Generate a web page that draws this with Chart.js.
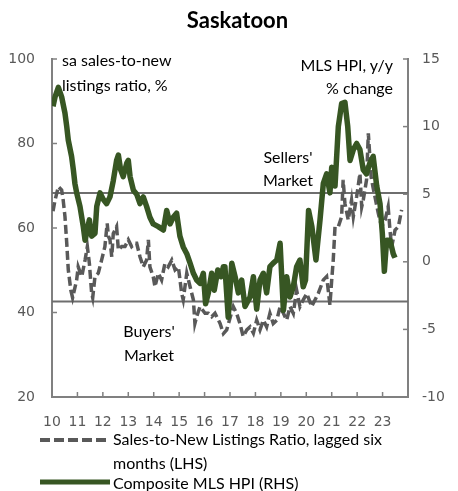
<!DOCTYPE html>
<html>
<head>
<meta charset="utf-8">
<script src="https://cdn.jsdelivr.net/npm/chart.js@4.4.1/dist/chart.umd.min.js"></script>
<style>
  html, body { margin: 0; padding: 0; background: #fff; }
  #wrap { position: relative; width: 458px; height: 491px; overflow: hidden; font-family: Lato, "Open Sans", sans-serif; color: #000; }
  #c { position: absolute; left: 0; top: 0; }
  .t { position: absolute; white-space: nowrap; line-height: 1; }
  #title { left: 0; width: 475px; text-align: center; top: 9px; font-weight: bold; font-size: 22px; }
  .ann { font-size: 16px; }
  .leg { font-size: 16px; }
  svg { position: absolute; }
</style>
</head>
<body>
<div id="wrap">
  <canvas id="c" width="458" height="491"></canvas>
  <div class="t" id="title">Saskatoon</div>
  <div class="t ann" style="left:62px;top:52px;">sa sales-to-new</div>
  <div class="t ann" style="left:62px;top:77px;">listings ratio, %</div>
  <div class="t ann" style="right:65px;top:57px;">MLS HPI, y/y</div>
  <div class="t ann" style="right:65px;top:80px;">% change</div>
  <div class="t ann" style="left:238px;width:100px;text-align:center;top:149px;">Sellers'</div>
  <div class="t ann" style="left:238px;width:100px;text-align:center;top:172px;">Market</div>
  <div class="t ann" style="left:99px;width:100px;text-align:center;top:323px;">Buyers'</div>
  <div class="t ann" style="left:99px;width:100px;text-align:center;top:347px;">Market</div>
  <svg style="left:38px;top:434px" width="74" height="12"><line x1="2" y1="6" x2="72" y2="6" stroke="#595959" stroke-width="4" stroke-dasharray="10,4"/></svg>
  <div class="t leg" style="left:113px;top:431px;">Sales-to-New Listings Ratio, lagged six</div>
  <div class="t leg" style="left:113px;top:455px;">months (LHS)</div>
  <svg style="left:38px;top:476px" width="74" height="12"><line x1="2" y1="6" x2="72" y2="6" stroke="#375623" stroke-width="5"/></svg>
  <div class="t leg" style="left:113px;top:475px;">Composite MLS HPI (RHS)</div>
</div>
<script>
// Composite MLS HPI, y/y % change (right axis)
const hpiDates = [2010.04,2010.12,2010.25,2010.38,2010.51,2010.58,2010.64,2010.77,2010.84,2010.90,2010.97,2011.10,2011.23,2011.30,2011.36,2011.47,2011.56,2011.69,2011.76,2011.89,2012.02,2012.15,2012.28,2012.41,2012.54,2012.61,2012.70,2012.80,2012.94,2013.00,2013.07,2013.20,2013.33,2013.46,2013.59,2013.72,2013.85,2013.98,2014.18,2014.38,2014.51,2014.64,2014.77,2014.90,2015.03,2015.16,2015.30,2015.43,2015.56,2015.69,2015.82,2015.95,2016.04,2016.15,2016.28,2016.38,2016.52,2016.65,2016.74,2016.80,2016.93,2017.07,2017.20,2017.33,2017.46,2017.59,2017.79,2017.92,2018.05,2018.18,2018.31,2018.44,2018.57,2018.70,2018.84,2018.97,2019.10,2019.23,2019.36,2019.49,2019.62,2019.75,2019.88,2019.97,2020.09,2020.22,2020.38,2020.54,2020.67,2020.80,2020.93,2021.00,2021.13,2021.26,2021.39,2021.52,2021.63,2021.72,2021.85,2021.98,2022.11,2022.24,2022.37,2022.50,2022.63,2022.77,2022.90,2022.99,2023.07,2023.16,2023.29,2023.42,2023.49];
const hpiValues = [11.5,12.2,12.9,12.2,11.0,10.0,9.0,7.8,6.8,5.8,5.1,4.1,2.6,1.6,2.1,3.1,1.9,2.1,4.1,5.1,4.6,4.3,4.8,6.0,7.5,7.9,6.8,6.3,7.3,7.5,6.3,5.3,5.0,4.3,4.8,4.1,3.3,2.8,2.6,2.35,3.8,2.8,3.3,3.6,1.9,1.1,0.6,-0.1,-0.85,-1.35,-1.6,-0.85,-3.1,-2.3,-0.85,-2.1,-0.6,-1.1,-0.36,-0.36,-4.1,-0.1,-1.1,-2.3,-1.35,-3.3,-2.6,-1.1,-3.5,-1.35,-0.85,-2.3,-0.36,-0.1,0.13,1.37,-3.6,-1.1,-2.6,-1.85,-0.36,0.13,-1.85,-1.35,3.8,2.6,0.13,3.1,5.8,6.5,5.1,7.0,5.6,10.0,11.7,11.8,10.0,7.5,8.3,8.75,8.3,6.8,6.5,7.3,7.8,5.6,4.3,2.1,-0.7,1.6,1.6,0.6,0.3];

// Sales-to-new listings ratio, lagged six months (left axis)
const snlrDates = [2010.04,2010.12,2010.25,2010.38,2010.44,2010.51,2010.58,2010.64,2010.74,2010.81,2010.97,2011.03,2011.17,2011.30,2011.39,2011.47,2011.56,2011.60,2011.69,2011.82,2011.95,2012.08,2012.17,2012.22,2012.28,2012.35,2012.41,2012.54,2012.61,2012.74,2012.87,2013.00,2013.13,2013.26,2013.33,2013.46,2013.59,2013.72,2013.79,2013.85,2013.98,2014.05,2014.18,2014.31,2014.44,2014.57,2014.71,2014.84,2014.97,2015.10,2015.16,2015.30,2015.43,2015.56,2015.62,2015.69,2015.82,2016.02,2016.15,2016.28,2016.41,2016.61,2016.74,2016.87,2017.13,2017.26,2017.39,2017.52,2017.66,2017.79,2017.92,2018.05,2018.18,2018.31,2018.44,2018.57,2018.70,2018.84,2018.97,2019.10,2019.23,2019.36,2019.49,2019.62,2019.75,2019.88,2020.02,2020.21,2020.47,2020.67,2020.80,2020.93,2021.00,2021.06,2021.13,2021.26,2021.39,2021.45,2021.52,2021.65,2021.78,2021.85,2021.98,2022.11,2022.18,2022.24,2022.37,2022.44,2022.50,2022.55,2022.62,2022.70,2022.83,2022.96,2023.10,2023.22,2023.29,2023.36,2023.49,2023.62,2023.75,2023.88];
const snlrValues = [64.0,66.6,69.8,69.0,66.6,62.7,56.4,50.1,45.3,43.5,47.7,50.8,48.5,52.4,55.6,51.6,44.5,43.5,48.5,49.3,52.4,55.6,61.1,58.0,57.2,53.2,58.7,60.3,54.8,55.6,55.6,57.2,55.6,56.4,56.4,53.2,50.8,52.4,57.2,50.8,48.5,46.1,49.3,47.7,51.6,50.8,52.4,50.1,50.8,44.5,43.0,49.3,46.1,43.0,37.4,39.0,41.4,39.8,39.8,39.0,39.8,37.4,35.0,35.9,41.4,39.8,37.4,34.3,35.9,36.6,35.1,38.2,35.9,38.2,36.6,39.8,37.4,38.2,41.4,39.8,38.2,41.4,39.8,45.3,41.4,43.0,44.5,41.4,44.5,47.7,48.5,41.8,47.7,52.4,60.3,60.3,62.7,71.4,65.8,61.9,66.6,62.7,67.4,72.9,65.0,66.6,71.4,82.4,76.9,72.1,69.8,67.4,63.5,60.3,61.9,65.0,59.5,55.6,59.5,60.3,64.3];

// Market thresholds (left axis)
const sellersLevel = 68.3;
const buyersLevel = 42.6;
const xRange = [2010, 2024];

const axisColor = '#808080';
const tickColor = '#595959';

const insideTicks = {
  id: 'insideTicks',
  afterDatasetsDraw(chart) {
    const ctx = chart.ctx;
    const a = chart.chartArea;
    ctx.save();
    ctx.strokeStyle = axisColor;
    ctx.lineWidth = 1.5;
    const len = 5;
    const x = chart.scales.x, y = chart.scales.y, y1 = chart.scales.y1;
    x.ticks.forEach(t => {
      const px = x.getPixelForValue(t.value);
      ctx.beginPath(); ctx.moveTo(px, a.bottom); ctx.lineTo(px, a.bottom - len); ctx.stroke();
    });
    y.ticks.forEach(t => {
      const py = y.getPixelForValue(t.value);
      ctx.beginPath(); ctx.moveTo(a.left, py); ctx.lineTo(a.left + len, py); ctx.stroke();
    });
    y1.ticks.forEach(t => {
      const py = y1.getPixelForValue(t.value);
      ctx.beginPath(); ctx.moveTo(a.right, py); ctx.lineTo(a.right - len, py); ctx.stroke();
    });
    ctx.restore();
  }
};

const pts = (xs, ys) => xs.map((v, i) => ({x: v, y: ys[i]}));
const tickFont = { family: 'DejaVu Sans', size: 14 };

new Chart(document.getElementById('c'), {
  type: 'line',
  data: {
    datasets: [
      { label: 'Sellers', data: pts(xRange, [sellersLevel, sellersLevel]), yAxisID: 'y', borderColor: '#6e6e6e', borderWidth: 2, pointRadius: 0, order: 3 },
      { label: 'Buyers', data: pts(xRange, [buyersLevel, buyersLevel]), yAxisID: 'y', borderColor: '#6e6e6e', borderWidth: 2, pointRadius: 0, order: 3 },
      { label: 'Sales-to-New Listings Ratio, lagged six months (LHS)', data: pts(snlrDates, snlrValues), yAxisID: 'y', borderColor: '#595959', borderWidth: 3.5, borderDash: [9, 4], pointRadius: 0, order: 2 },
      { label: 'Composite MLS HPI (RHS)', data: pts(hpiDates, hpiValues), yAxisID: 'y1', borderColor: '#375623', borderWidth: 5.5, pointRadius: 0, order: 1, borderJoinStyle: 'round' }
    ]
  },
  options: {
    responsive: false,
    devicePixelRatio: 1,
    animation: false,
    layout: { padding: { top: 59, left: 0, right: 0, bottom: 0 } },
    plugins: { legend: { display: false }, title: { display: false }, tooltip: { enabled: false } },
    scales: {
      x: {
        type: 'linear', min: 2010, max: 2024,
        afterFit(s) { s.height = 94; },
        grid: { display: false, drawTicks: false },
        border: { color: axisColor, width: 2 },
        ticks: { stepSize: 1, autoSkip: false, maxRotation: 0, padding: 17, color: tickColor, font: tickFont,
          callback: v => v < 2024 ? String(v).slice(2) : '' }
      },
      y: {
        position: 'left', min: 20, max: 100,
        afterFit(s) { s.width = 52; },
        grid: { display: false, drawTicks: false },
        border: { color: axisColor, width: 2 },
        ticks: { stepSize: 20, padding: 17, color: tickColor, font: tickFont }
      },
      y1: {
        position: 'right', min: -10, max: 15,
        afterFit(s) { s.width = 50; },
        grid: { display: false, drawTicks: false },
        border: { color: axisColor, width: 2 },
        ticks: { stepSize: 5, padding: 14, color: tickColor, font: tickFont }
      }
    }
  },
  plugins: [insideTicks]
});
</script>
</body>
</html>
